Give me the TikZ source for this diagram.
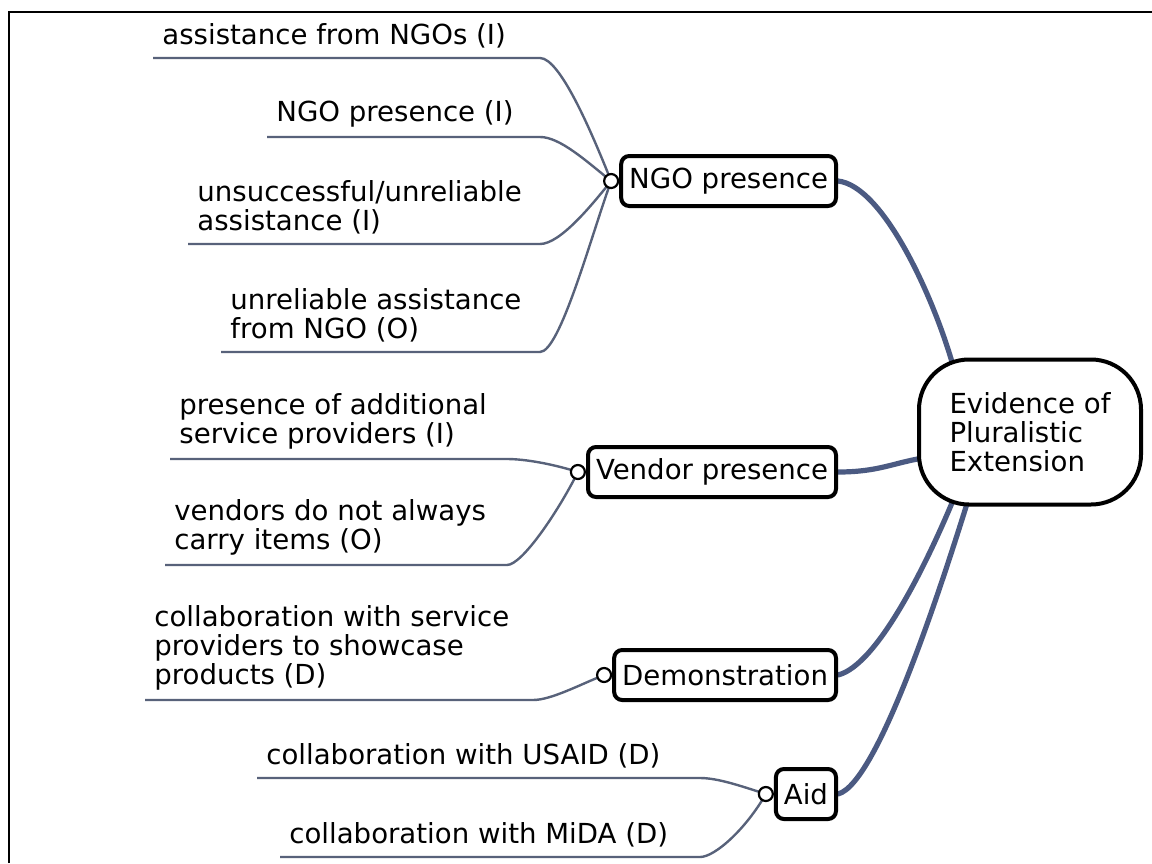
\documentclass[tikz,border=0pt]{standalone}
\usepackage{fontspec}
\setmainfont{DejaVu Sans}
\usetikzlibrary{positioning,backgrounds}
\definecolor{twigcol}{HTML}{58627A}
\definecolor{branchcol}{HTML}{4B5A82}
\tikzset{
  leaf/.style={anchor=south west, align=left, inner xsep=4.5pt, inner ysep=4.5pt},
  topic/.style={draw, line width=2pt, rounded corners=4pt, fill=white,
    minimum height=25pt, inner xsep=4pt, anchor=east},
  knob/.style={draw, circle, fill=white, line width=1.1pt, minimum size=7pt, inner sep=0pt},
  twig/.style={draw=twigcol, line width=1.2pt},
  branch/.style={draw=branchcol, line width=2.6pt, line cap=round},
}
\begin{document}
\begin{tikzpicture}[x=0.5pt,y=-0.5pt,font=\fontsize{13.8}{14.5}\selectfont]
\useasboundingbox (0,0) rectangle (1152,863);
\draw[line width=1pt] (9,863) -- (9,12) -- (1152,12);

% centre
\node[draw, line width=2pt, rounded corners=25pt, fill=white, minimum width=111pt,
  minimum height=72.5pt, align=left] (ev) at (1030,432) {Evidence of\\Pluralistic\\Extension};
\coordinate (evtop) at ([shift={(36,8)}]ev.north west);
\coordinate (evleft) at ([shift={(6,26)}]ev.west);
\coordinate (evbot1) at ([shift={(36,-6)}]ev.south west);
\coordinate (evbot2) at ([shift={(51,-6)}]ev.south west);

% topics
\node[topic] (ngo) at (838,181) {NGO presence};
\node[topic] (vendor) at (838,472) {Vendor presence};
\node[topic] (demo) at (838,675) {Demonstration};
\node[topic] (aid) at (838,794) {Aid};
\node[knob, left=0pt of ngo] (ngoknob) {};
\node[knob, left=0pt of vendor] (vendorknob) {};
\node[knob, left=0pt of demo] (demoknob) {};
\node[knob, left=0pt of aid] (aidknob) {};

% leaves
\node[leaf] (ngo1) at (153,58) {assistance from NGOs (I)};
\node[leaf] (ngo2) at (267,137) {NGO presence (I)};
\node[leaf] (ngo3) at (188,244) {unsuccessful/unreliable\\assistance (I)};
\node[leaf] (ngo4) at (221,352) {unreliable assistance\\from NGO (O)};
\node[leaf] (ven1) at (170,459) {presence of additional\\service providers (I)};
\node[leaf] (ven2) at (165,565) {vendors do not always\\carry items (O)};
\node[leaf] (demo1) at (145,700) {collaboration with service\\providers to showcase\\products (D)};
\node[leaf] (aid1) at (257,778) {collaboration with USAID (D)};
\node[leaf] (aid2) at (280,857) {collaboration with MiDA (D)};

\coordinate (ngofork) at (540,0);
\coordinate (venfork) at (507,0);
\coordinate (demofork) at (533,0);
\coordinate (aidfork) at (700,0);

\begin{scope}[on background layer]
% twigs
\draw[twig] (ngo1.south west) -- (ngo1.south west -| ngofork) .. controls +(20,0) and +(-20,-50) .. (ngoknob.center);
\draw[twig] (ngo2.south west) -- (ngo2.south west -| ngofork) .. controls +(20,0) and +(-25,-20) .. (ngoknob.center);
\draw[twig] (ngo3.south west) -- (ngo3.south west -| ngofork) .. controls +(20,0) and +(-20,25) .. (ngoknob.center);
\draw[twig] (ngo4.south west) -- (ngo4.south west -| ngofork) .. controls +(20,0) and +(-20,55) .. (ngoknob.center);
\draw[twig] (ven1.south west) -- (ven1.south west -| venfork) .. controls +(18,0) and +(-25,-8) .. (vendorknob.center);
\draw[twig] (ven2.south west) -- (ven2.south west -| venfork) .. controls +(15,0) and +(-20,40) .. (vendorknob.center);
\draw[twig] (demo1.south west) -- (demo1.south west -| demofork) .. controls +(18,0) and +(-25,10) .. (demoknob.center);
\draw[twig] (aid1.south west) -- (aid1.south west -| aidfork) .. controls +(18,0) and +(-25,-8) .. (aidknob.center);
\draw[twig] (aid2.south west) -- (aid2.south west -| aidfork) .. controls +(15,0) and +(-20,35) .. (aidknob.center);
% branches
\draw[branch] (ngo.east) .. controls +(45,5) and +(-20,-70) .. (evtop);
\draw[branch] (vendor.east) .. controls +(40,0) and +(-30,5) .. (evleft);
\draw[branch] (demo.east) .. controls +(40,-10) and +(-25,60) .. (evbot1);
\draw[branch] (aid.east) .. controls +(40,-10) and +(-25,80) .. (evbot2);
\end{scope}
\end{tikzpicture}
\end{document}
